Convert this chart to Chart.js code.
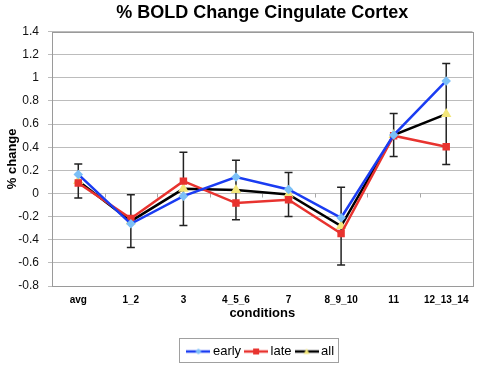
<!DOCTYPE html>
<html>
<head>
<meta charset="utf-8">
<script src="https://cdn.jsdelivr.net/npm/chart.js@4"></script>
<style>
    html, body { margin: 0; padding: 0; background: #fff; }
    #wrap { width: 479px; height: 365px; }
</style>
</head>
<body>
<div id="wrap"><canvas id="chart" width="479" height="365"></canvas></div>
<script>
// Chart data
const categories = ['avg', '1_2', '3', '4_5_6', '7', '8_9_10', '11', '12_13_14'];
const earlyValues = [0.165, -0.262, -0.023, 0.142, 0.035, -0.21, 0.505, 0.973];
const lateValues = [0.09, -0.216, 0.107, -0.083, -0.054, -0.346, 0.5, 0.405];
const allValues = [0.107, -0.239, 0.04, 0.03, -0.008, -0.282, 0.505, 0.687];
const allErrors = [0.147, 0.228, 0.317, 0.257, 0.19, 0.336, 0.186, 0.437];
const yMin = -0.8;
const yMax = 1.4;
const yStep = 0.2;

const FONT = "'Liberation Sans', Arial, sans-serif";

// Small line + marker swatch used as the legend symbol
function makeSwatch(lineColor, marker, markerColor) {
    const c = document.createElement('canvas');
    c.width = 24;
    c.height = 10;
    const ctx = c.getContext('2d');
    ctx.strokeStyle = lineColor;
    ctx.lineWidth = 2.5;
    ctx.beginPath();
    ctx.moveTo(0, 5);
    ctx.lineTo(24, 5);
    ctx.stroke();
    ctx.fillStyle = markerColor;
    ctx.beginPath();
    if (marker === 'rect') {
        ctx.rect(9, 2, 6, 6);
    } else if (marker === 'triangle') {
        ctx.moveTo(12, 2);
        ctx.lineTo(15, 7.5);
        ctx.lineTo(9, 7.5);
        ctx.closePath();
    } else {
        ctx.moveTo(12, 2);
        ctx.lineTo(15, 5);
        ctx.lineTo(12, 8);
        ctx.lineTo(9, 5);
        ctx.closePath();
    }
    ctx.fill();
    return c;
}

const swatches = [
    makeSwatch('#1a3cf2', 'diamond', '#7cc0f7'),
    makeSwatch('#e8332f', 'rect', '#e8332f'),
    makeSwatch('#000000', 'triangle', '#f3e77a')
];

// Plot frame, little ticks on the zero line and error bars of "all"
const framePlugin = {
    id: 'frame',
    beforeDatasetsDraw(chart) {
        const ctx = chart.ctx;
        const x = chart.scales.x;
        const y = chart.scales.y;
        ctx.save();

        // zero line ticks at the category boundaries
        const y0 = Math.round(y.getPixelForValue(0)) + 0.5;
        ctx.strokeStyle = '#a8a8a8';
        ctx.lineWidth = 1;
        const half = (x.getPixelForValue(1) - x.getPixelForValue(0)) / 2;
        for (let i = 0; i <= categories.length; i++) {
            const px = Math.round(x.getPixelForValue(0) - half + i * half * 2) + 0.5;
            ctx.beginPath();
            ctx.moveTo(px, y0);
            ctx.lineTo(px, y0 + 4);
            ctx.stroke();
        }

        // error bars
        ctx.strokeStyle = '#222';
        ctx.lineWidth = 1.5;
        allValues.forEach((v, i) => {
            const px = x.getPixelForValue(i);
            const top = y.getPixelForValue(v + allErrors[i]);
            const bottom = y.getPixelForValue(v - allErrors[i]);
            ctx.beginPath();
            ctx.moveTo(px, top);
            ctx.lineTo(px, bottom);
            ctx.moveTo(px - 4, top);
            ctx.lineTo(px + 4, top);
            ctx.moveTo(px - 4, bottom);
            ctx.lineTo(px + 4, bottom);
            ctx.stroke();
        });

        ctx.restore();
    },
    afterDraw(chart) {
        const ctx = chart.ctx;
        const area = chart.chartArea;
        ctx.save();
        ctx.strokeStyle = '#9a9a9a';
        ctx.lineWidth = 1;
        ctx.strokeRect(Math.round(area.left) + 0.5, Math.round(area.top) + 0.5,
            Math.round(area.right - area.left), Math.round(area.bottom - area.top));

        // border round the legend
        const boxes = chart.legend.legendHitBoxes;
        if (boxes && boxes.length) {
            const left = Math.min(...boxes.map(b => b.left)) - 11;
            const right = Math.max(...boxes.map(b => b.left + b.width)) + 4;
            const top = boxes[0].top - 7;
            const h = boxes[0].height + 11;
            ctx.strokeStyle = '#a0a0a0';
            ctx.strokeRect(Math.round(left) + 0.5, Math.round(top) + 0.5, Math.round(right - left), Math.round(h));
        }
        ctx.restore();
    }
};

new Chart(document.getElementById('chart'), {
    type: 'line',
    data: {
        labels: categories,
        datasets: [{
            label: 'early',
            data: earlyValues,
            borderColor: '#1a3cf2',
            backgroundColor: '#7cc0f7',
            pointBackgroundColor: '#7cc0f7',
            pointBorderColor: '#7cc0f7',
            pointStyle: 'rectRot',
            pointRadius: 3,
            borderWidth: 2.5
        }, {
            label: 'late',
            data: lateValues,
            borderColor: '#e8332f',
            backgroundColor: '#e8332f',
            pointBackgroundColor: '#e8332f',
            pointBorderColor: '#e8332f',
            pointStyle: 'rect',
            pointRadius: 3.5,
            borderWidth: 2.5
        }, {
            label: 'all',
            data: allValues,
            borderColor: '#000000',
            backgroundColor: '#f3e77a',
            pointBackgroundColor: '#f3e77a',
            pointBorderColor: '#f3e77a',
            pointStyle: 'triangle',
            pointRadius: 3.5,
            borderWidth: 2.5
        }]
    },
    options: {
        responsive: false,
        animation: false,
        events: [],
        layout: { padding: { top: 0, right: 5, bottom: -3, left: 0 } },
        plugins: {
            title: {
                display: true,
                text: '% BOLD Change Cingulate Cortex',
                fullSize: false,
                color: '#000',
                font: { family: FONT, size: 18, weight: 'bold' },
                padding: { top: 2, bottom: 8 }
            },
            legend: {
                position: 'bottom',
                fullSize: false,
                labels: {
                    color: '#000',
                    font: { family: FONT, size: 13 },
                    usePointStyle: true,
                    pointStyleWidth: 16,
                    padding: 7,
                    generateLabels(chart) {
                        return chart.data.datasets.map((ds, i) => ({
                            text: ds.label,
                            pointStyle: swatches[i],
                            fontColor: '#000',
                            lineWidth: 0,
                            datasetIndex: i
                        }));
                    }
                }
            },
            tooltip: { enabled: false }
        },
        scales: {
            x: {
                offset: true,
                grid: { display: false, drawTicks: false },
                border: { display: false },
                ticks: {
                    color: '#000',
                    padding: 8,
                    maxRotation: 0,
                    autoSkip: false,
                    font: { family: FONT, size: 10, weight: 'bold' }
                },
                title: {
                    display: true,
                    text: 'conditions',
                    color: '#000',
                    font: { family: FONT, size: 13, weight: 'bold' },
                    padding: { top: 0, bottom: 17 }
                },
                afterFit(scale) { scale.height = 52; }
            },
            y: {
                min: yMin,
                max: yMax,
                grid: { color: '#bcbcbc', tickLength: 4, lineWidth: 1 },
                border: { display: false },
                ticks: {
                    stepSize: yStep,
                    color: '#111',
                    padding: 9,
                    font: { family: FONT, size: 12 },
                    callback: v => String(Number(v.toFixed(1)))
                },
                title: {
                    display: true,
                    text: '% change',
                    color: '#000',
                    font: { family: FONT, size: 13, weight: 'bold' },
                    padding: { top: 5, bottom: 0 }
                },
                afterFit(scale) { scale.width = 52; }
            }
        }
    },
    plugins: [framePlugin]
});
</script>
</body>
</html>
